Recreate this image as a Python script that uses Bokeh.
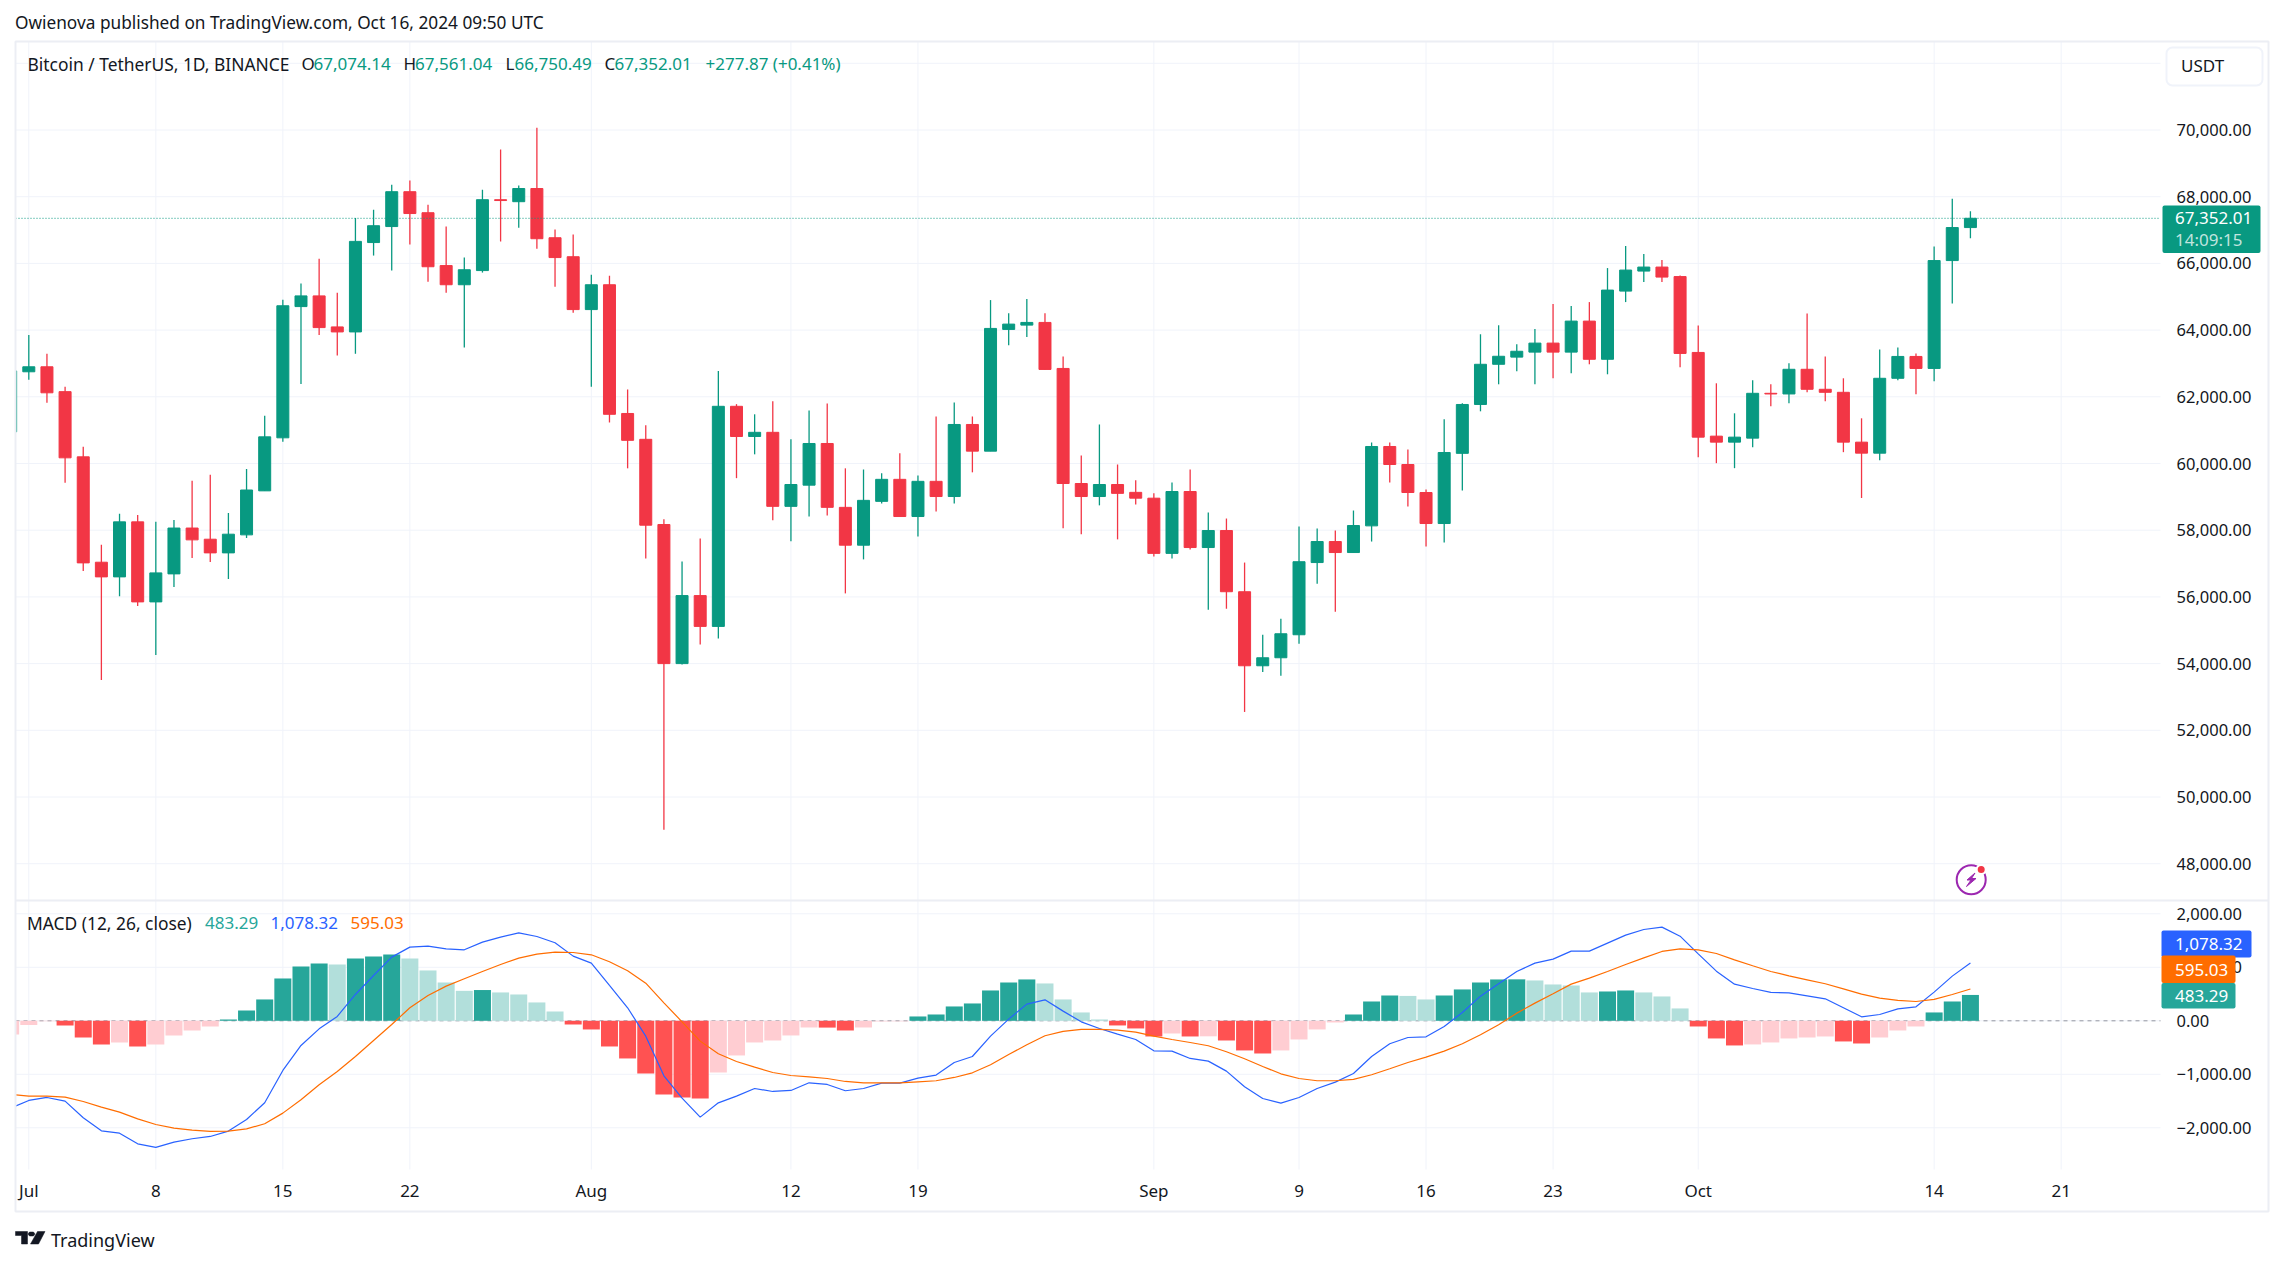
from bokeh.plotting import figure
from bokeh.embed import file_html
from bokeh.resources import INLINE
from bokeh.models import (Range1d, FixedTicker, Label, BoxAnnotation, PolyAnnotation, LinearAxis,
                          NumeralTickFormatter, ColumnDataSource)
import pandas as pd

# ---------- data: Jun 30 .. Oct 16 2024 ----------
first_day = "2024-06-30"
open_ = [60950,
    62750,62900,62155,60200,57040,56600,58250,55850,56690,58065,57730,57320,57860,59180,60770,64705,65025,64095,63945,66625,67105,68150,67520,65935,65360,65785,67910,67850,68245,66770,66200,
    64615,65360,61500,60725,58170,54000,56040,55115,61715,60810,60935,58715,59350,60600,58685,57550,58865,59525,58410,59465,59010,61170,60370,64020,64150,64230,62850,59400,59010,59370,59135,
    58960,57305,59160,57480,57990,56155,53935,54175,54865,57030,57660,57330,58130,60510,59970,59130,58200,60305,61770,62975,63190,63340,63610,63340,64270,63125,65170,65770,65890,65605,
    63330,60820,60640,60760,62105,62085,62825,62225,62135,60640,60310,62555,63210,62850,66085,67074.14]
high = [62900,
    63855,63290,62305,60500,57560,58490,58455,58250,58305,59480,59665,58515,59835,61430,64910,65395,66140,65120,67360,67610,68360,68485,67760,67105,66175,68210,69415,68335,70070,67015,66865,
    65660,65630,62220,61145,58325,57065,57750,62770,61780,61475,61865,60725,61590,61800,59855,59820,59705,60305,59640,61410,61830,61410,64900,64505,64930,64505,63210,60240,61170,59970,59495,
    59105,59430,59820,58530,58350,57030,54865,55345,58110,58050,57990,58590,60630,60630,60420,59220,61325,61805,63875,64145,63575,64030,64780,64720,64840,65860,66520,66280,66100,65635,
    64140,62405,61505,62495,62375,63005,64500,63210,62555,61355,63420,63480,63300,66505,67940,67561.04]
low = [60700,
    62510,61820,59420,56780,53505,56020,55725,54255,56300,57170,57045,56540,57765,59180,60650,62385,63855,63235,63290,66235,65785,66565,65450,65120,63475,65725,66660,67070,66440,65300,64520,
    62305,61230,59855,57150,49020,53970,54570,54750,59560,60275,58295,57665,58410,58440,56105,57125,58800,58410,57810,58560,58800,59735,60370,63545,63790,62820,58055,57875,58745,57725,58770,
    57210,57150,57420,55615,55645,52550,53750,53635,54595,56395,55555,57330,57660,59430,58710,57510,57630,59190,61565,62375,62765,62375,62555,62705,62975,62675,64840,65440,65440,62885,
    60190,60010,59860,60490,61715,61805,62135,61865,60340,58965,60100,62495,62075,62465,64800,66750.49]
close = [62775,
    62900,62120,60170,57020,56600,58250,55850,56720,58065,57710,57320,57880,59205,60800,64730,65025,64075,63945,66660,67130,68150,67495,65900,65360,65810,67910,67885,68245,66740,66175,64615,
    65360,61475,60695,58150,54000,56040,55115,61715,60810,60935,58715,59370,60600,58685,57550,58895,59525,58410,59465,59010,61170,60370,64050,64180,64230,62820,59400,59010,59370,59105,58960,
    57305,59160,57480,57990,56155,53935,54175,54895,57055,57660,57330,58140,60510,59970,59130,58200,60330,61770,62975,63215,63365,63610,63340,64270,63125,65200,65800,65890,65590,63300,
    60790,60640,60790,62105,62085,62825,62225,62135,60640,60310,62555,63210,62850,66085,67075,67352.01]

macd = [-1632,
    -1489,-1433,-1501,-1813,-2056,-2100,-2299,-2367,-2268,-2205,-2162,-2062,-1844,-1533,-928,-461,-150,81,492,847,1190,1377,1396,1346,1327,1470,1564,1645,1576,1458,1209,
    1078,660,243,-287,-1028,-1445,-1800,-1533,-1408,-1265,-1321,-1302,-1159,-1190,-1308,-1265,-1165,-1165,-1072,-1015,-779,-667,-287,31,312,392,181,-19,-143,-249,-349,
    -561,-567,-704,-754,-941,-1234,-1452,-1539,-1433,-1265,-1146,-984,-667,-430,-312,-299,-106,156,461,692,922,1078,1153,1302,1302,1452,1601,1707,1751,1582,
    1252,928,685,604,530,523,467,411,243,75,118,224,262,536,835,1078.32]
signal = [-1377,
    -1408,-1408,-1427,-1508,-1614,-1707,-1832,-1938,-2006,-2043,-2068,-2062,-2019,-1925,-1726,-1477,-1196,-947,-667,-368,-69,243,473,648,785,922,1053,1171,1246,1283,1277,
    1234,1103,935,704,336,-19,-380,-617,-760,-866,-966,-1022,-1047,-1078,-1134,-1159,-1159,-1159,-1140,-1121,-1059,-972,-822,-629,-449,-280,-199,-162,-162,-174,-212,
    -287,-349,-405,-467,-579,-710,-854,-991,-1078,-1121,-1121,-1096,-1009,-897,-779,-679,-567,-430,-262,-75,143,330,505,685,797,922,1053,1177,1296,1346,
    1327,1258,1140,1028,922,841,766,692,598,498,424,380,361,399,492,595.03]
hist = [-255,
    -80,-10,-87,-312,-442,-405,-480,-442,-274,-181,-106,25,193,399,791,1015,1072,1053,1165,1202,1240,1165,941,716,560,575,530,492,343,174,-69,
    -162,-480,-704,-984,-1377,-1433,-1452,-966,-648,-405,-368,-274,-125,-127,-181,-125,-12,-10,81,118,268,324,567,716,773,698,399,156,25,-87,-143,
    -293,-237,-293,-290,-368,-554,-611,-554,-349,-162,-31,118,361,473,465,399,473,586,716,773,775,754,679,660,530,548,567,530,455,231,
    -106,-330,-461,-442,-405,-330,-312,-293,-386,-424,-312,-181,-106,156,361,483.29]

price_ticks = [48000,50000,52000,54000,56000,58000,60000,62000,64000,66000,68000,70000,72000]
macd_ticks = [-2000,-1000,0,1000,2000]
time_ticks = ["2024-07-01","2024-07-08","2024-07-15","2024-07-22","2024-08-01","2024-08-12","2024-08-19",
              "2024-09-01","2024-09-09","2024-09-16","2024-09-23","2024-10-01","2024-10-14","2024-10-21"]
time_labels = ["Jul","8","15","22","Aug","12","19","Sep","9","16","23","Oct","14","21"]

for arr in (open_, high, low, close, macd, signal, hist):
    assert len(arr) == 109, len(arr)

# ---------- styles and layout constants ----------
FONT = "Noto Sans"
FS = 17
HEAD = 17.4
INK = "#131722"
GREEN = "#089981"
RED = "#f23645"
GRID = "#f0f3fa"
BORDER = "#eceef4"
W, H = 2280, 1260
LEFT, RIGHT, TOP, SEP, BOTTOM, OUTER_B, OUTER_R = 15, 2160, 41, 900, 1169, 1211, 2268
DAY = 18.146            # pixels per day
X0 = 1 - 28.3 / DAY     # x value at the left canvas edge
PPX = 33.35 / 1000      # pixels per price unit
MPX = 53.5 / 1000       # pixels per MACD unit

def px(v): return X0 + v / DAY
def py(v): return 70000 - (v - 129.5) / PPX
def my(v): return (1020.3 - v) / MPX

x = list(range(len(close)))
t0 = pd.Timestamp(first_day)
tick_x = [(pd.Timestamp(d) - t0).days for d in time_ticks]

p = figure(width=W, height=H, x_range=Range1d(px(0), px(W)), y_range=Range1d(py(H), py(0)),
           x_axis_type=None, y_axis_type=None, toolbar_location=None, output_backend="svg",
           min_border_left=0, min_border_right=0, min_border_top=0, min_border_bottom=0,
           outline_line_color=None, background_fill_color="white")
p.grid.visible = False
p.extra_y_ranges["macd"] = Range1d(my(H), my(0))

def style(ax, size):
    ax.axis_line_color = None
    ax.major_tick_line_color = None
    ax.minor_tick_line_color = None
    ax.major_label_text_font = FONT
    ax.major_label_text_font_size = f"{size}px"
    ax.major_label_text_color = INK

ax1 = LinearAxis(fixed_location=px(RIGHT), ticker=FixedTicker(ticks=price_ticks),
                 formatter=NumeralTickFormatter(format="0,0.00"), major_label_overrides={72000: ""})
style(ax1, 16.5); ax1.major_label_standoff = 10
p.add_layout(ax1, "right")
ax2 = LinearAxis(fixed_location=px(RIGHT), y_range_name="macd", ticker=FixedTicker(ticks=macd_ticks),
                 major_label_overrides={-2000: "\u22122,000.00", -1000: "\u22121,000.00", 0: "0.00",
                                        1000: "1,000.00", 2000: "2,000.00"})
style(ax2, 16.5); ax2.major_label_standoff = 10
p.add_layout(ax2, "right")
ax3 = LinearAxis(fixed_location=py(BOTTOM), ticker=FixedTicker(ticks=tick_x),
                 major_label_overrides=dict(zip(tick_x, time_labels)))
style(ax3, FS); ax3.major_label_standoff = 3
p.add_layout(ax3, "below")

# ---------- gridlines ----------
p.segment([px(LEFT)] * len(price_ticks), price_ticks, [px(RIGHT)] * len(price_ticks), price_ticks,
          line_color=GRID, line_width=1, level="underlay")
p.segment([px(LEFT)] * len(macd_ticks), macd_ticks, [px(RIGHT)] * len(macd_ticks), macd_ticks,
          line_color=GRID, line_width=1, level="underlay", y_range_name="macd")
p.segment(tick_x, [py(TOP)] * len(tick_x), tick_x, [py(BOTTOM)] * len(tick_x),
          line_color=GRID, line_width=1, level="underlay")

# ---------- candles ----------
colors = [GREEN if c >= o else RED for o, c in zip(open_, close)]
src = ColumnDataSource(dict(x=x, o=open_, h=high, l=low, c=close, col=colors))
p.segment("x", "h", "x", "l", source=src, color="col", line_width=1.3)
p.vbar("x", width=12 / DAY, top="c", bottom="o", source=src, fill_color="col", line_color="col", line_width=1)
p.line([px(LEFT), px(RIGHT)], [close[-1], close[-1]], line_color=GREEN, line_dash="1 2", line_width=1)

# ---------- MACD pane ----------
def hist_color(i):
    v = hist[i]
    prev = hist[i - 1] if i else v - 1
    if v >= 0:
        return "#26a69a" if v > prev else "#b2dfdb"
    return "#ff5252" if v < prev else "#ffcdd2"

p.line([px(LEFT), px(RIGHT)], [0, 0], line_color="#9598a1", line_dash="4 4", line_width=1,
       y_range_name="macd", level="underlay")
p.vbar(x, width=17 / DAY, top=hist, bottom=0, fill_color=[hist_color(i) for i in x], line_color=None, y_range_name="macd")
p.line(x, macd, line_color="#2962ff", line_width=1.2, y_range_name="macd")
p.line(x, signal, line_color="#ff6d00", line_width=1.2, y_range_name="macd")

# ---------- page-position annotations ----------
def box(x0, y0, x1, y1, fill=None, line=None, lw=1, radius=0):
    p.add_layout(BoxAnnotation(left=x0, right=x1, top=y0, bottom=y1,
                               left_units="canvas", right_units="canvas", top_units="canvas", bottom_units="canvas",
                               fill_color=fill, fill_alpha=1 if fill else 0, line_color=line, line_alpha=1 if line else 0,
                               line_width=lw, border_radius=radius, editable=False))

def text(x0, yc, s, color=INK, size=FS, alpha=1):
    p.add_layout(Label(x=x0, y=yc, x_units="canvas", y_units="canvas", text=s, text_color=color,
                       text_font=FONT, text_font_size=f"{size}px", text_baseline="middle", text_align="left",
                       text_alpha=alpha))

box(0, TOP, LEFT, BOTTOM, fill="white")                    # the plot starts at the frame's left edge
box(LEFT, TOP, OUTER_R, OUTER_B, line=BORDER, lw=2)
box(LEFT, SEP - 1, OUTER_R, SEP + 1, fill=BORDER)

# ---------- header ----------
text(14.5, 22, "Owienova published on TradingView.com, Oct 16, 2024 09:50 UTC", size=17.25)
text(27, 63, "Bitcoin / TetherUS, 1D, BINANCE", size=HEAD)
for lx, vx, lt, vt in [(301, 313, "O", "67,074.14"), (403, 414.5, "H", "67,561.04"),
                       (505, 514, "L", "66,750.49"), (604, 614, "C", "67,352.01")]:
    text(lx, 63, lt)
    text(vx, 63, vt, GREEN)
text(705, 63, "+277.87 (+0.41%)", GREEN)

# ---------- right-hand tags ----------
box(2166, 47, 2262, 85, fill="white", line=GRID, lw=2, radius=6)
text(2180.5, 65, "USDT")
box(2162, 205, 2260, 252.5, fill=GREEN, radius=2)
text(2174.5, 217, "67,352.01", "white")
text(2174.5, 239, "14:09:15", "white", alpha=0.75)

text(26.5, 922.5, "MACD (12, 26, close)", size=HEAD)
text(204.5, 922.5, "483.29", "#26a69a")
text(270, 922.5, "1,078.32", "#2962ff")
text(350, 922.5, "595.03", "#ff6d00")
box(2161, 930, 2251, 957, fill="#2962ff", radius=2)
text(2174.5, 943, "1,078.32", "white")
box(2161, 955, 2235, 982.5, fill="#ff6d00", radius=2)
text(2174.5, 969, "595.03", "white")
box(2161, 982.5, 2235, 1008, fill="#26a69a", radius=2)
text(2174.5, 995, "483.29", "white")

# ---------- lightning badge ----------
p.scatter([px(1970.7)], [py(879.3)], marker="circle", size=29, fill_color=None, line_color="#9c27b0", line_width=2)
p.patch([px(v) for v in (1974.5, 1966.5, 1970.5, 1966, 1975.5, 1971)],
        [py(v) for v in (872.5, 879.5, 879.5, 886, 878, 878)], fill_color="#9c27b0", line_color="#9c27b0", line_width=1)
p.scatter([px(1980.7)], [py(869)], marker="circle", size=9, fill_color=RED, line_color="white", line_width=2)

# ---------- TradingView logo ----------
def poly(pts):
    p.add_layout(PolyAnnotation(xs=[a for a, _ in pts], ys=[b for _, b in pts], xs_units="canvas", ys_units="canvas",
                                fill_color=INK, fill_alpha=1, line_color=INK, line_alpha=1, line_width=0.5))
poly([(15, 1231), (27, 1231), (27, 1243.5), (21, 1243.5), (21, 1235), (15, 1235)])
poly([(37, 1231), (44.5, 1231), (38, 1243.5), (30, 1243.5)])
poly([(29, 1231.5), (33, 1231.5), (34.5, 1233.5), (33, 1235.5), (29, 1235.5), (27.5, 1233.5)])
text(50.5, 1239, "TradingView", size=18)

open("out.html", "w").write(file_html(p, INLINE))
